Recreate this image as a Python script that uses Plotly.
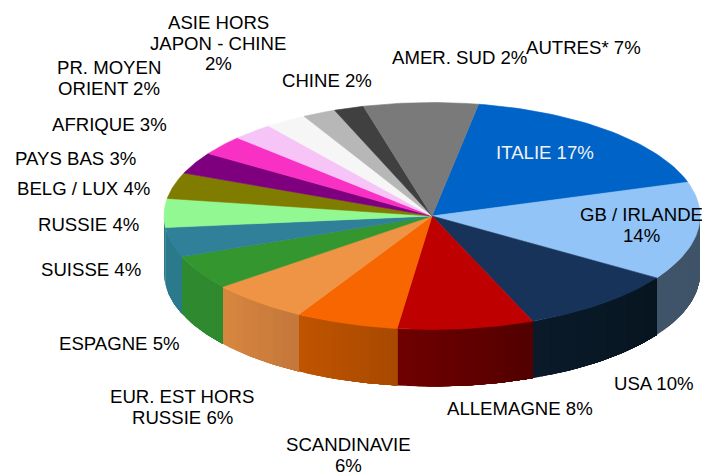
import numpy as np
import plotly.graph_objects as go

# Clockwise from ITALIE
regions = ["ITALIE", "GB / IRLANDE", "USA", "ALLEMAGNE", "SCANDINAVIE", "EUR. EST HORS RUSSIE",
           "ESPAGNE", "SUISSE", "RUSSIE", "BELG / LUX", "PAYS BAS", "AFRIQUE",
           "PR. MOYEN ORIENT", "ASIE HORS JAPON - CHINE", "CHINE", "AMER. SUD", "AUTRES*"]
shares = [17.4, 14.0, 9.7, 8.2, 6.2, 6.0, 4.9, 4.2, 4.1, 3.7, 3.1, 2.8, 2.5, 2.5, 2.0, 1.8, 6.9]
top_colors = ["#0063c8", "#92c4f7", "#17335a", "#bf0000", "#f76600", "#ef9445", "#33962f", "#2f8098",
              "#92f992", "#807c00", "#7f007f", "#f830c4", "#f7c4f7", "#f6f6f6", "#b7b7b7", "#404040", "#7a7a7a"]
side_left = ["#004a96", "#3f5469", "#0a1a2a", "#700000", "#c05400", "#d8873e", "#2f8a2f", "#2b7a8c",
             "#2b7a8c", "#807c00", "#7f007f", "#f830c4", "#f7c4f7", "#f6f6f6", "#b7b7b7", "#404040", "#7a7a7a"]
side_right = ["#004a96", "#3f5469", "#07151f", "#520000", "#a84a00", "#c4773a", "#2f8a2f", "#2b7a8c",
              "#2b7a8c", "#807c00", "#7f007f", "#f830c4", "#f7c4f7", "#f6f6f6", "#b7b7b7", "#404040", "#7a7a7a"]

labels = [
    (["ITALIE 17%"], 545, 152, "#f2f2f2"),
    (["GB / IRLANDE", "14%"], 641, 225, "#000000"),
    (["USA 10%"], 654, 383, "#000000"),
    (["ALLEMAGNE 8%"], 520, 408, "#000000"),
    (["SCANDINAVIE", "6%"], 348, 455, "#000000"),
    (["EUR. EST HORS", "RUSSIE 6%"], 182, 407, "#000000"),
    (["ESPAGNE 5%"], 119, 343, "#000000"),
    (["SUISSE 4%"], 91, 269, "#000000"),
    (["RUSSIE 4%"], 88, 224, "#000000"),
    (["BELG / LUX 4%"], 83, 188, "#000000"),
    (["PAYS BAS 3%"], 75, 158, "#000000"),
    (["AFRIQUE 3%"], 109, 124, "#000000"),
    (["PR. MOYEN", "ORIENT 2%"], 109, 78, "#000000"),
    (["ASIE HORS", "JAPON - CHINE", "2%"], 218, 43, "#000000"),
    (["CHINE 2%"], 327, 80, "#000000"),
    (["AMER. SUD 2%"], 459, 57, "#000000"),
    (["AUTRES* 7%"], 583, 47, "#000000"),
]

CX, CY, RX, RY, DEPTH, START = 432, 216, 268, 113.5, 57, 10.0
W, H = 702, 472
FONT_SIZE, LINE_GAP = 18.6, 20.5


def ex(t):
    return CX + RX * np.sin(np.radians(t))


def ey(t):
    return CY - RY * np.cos(np.radians(t))


def hex_mix(a, b, f):
    ca = [int(a[i:i + 2], 16) for i in (1, 3, 5)]
    cb = [int(b[i:i + 2], 16) for i in (1, 3, 5)]
    return "#%02x%02x%02x" % tuple(round(p + (q - p) * f) for p, q in zip(ca, cb))


def poly(xs, ys, color, width=0.6):
    return go.Scatter(x=list(xs), y=list(ys), mode="lines", fill="toself", fillcolor=color,
                      line=dict(color=color, width=width), hoverinfo="skip", showlegend=False)


fig = go.Figure()
total = sum(shares)
edges = START + np.cumsum([0] + shares) * 360 / total

# Rim: only the front half of the disc is visible. Each step paints on to the
# right-hand end of its slice, so the next step covers it and no seam shows.
for i in range(len(shares)):
    a, b = max(edges[i], 90), min(edges[i + 1], 270)
    if b <= a:
        continue
    n = max(1, int((b - a) / 2))
    steps = np.linspace(b, a, n + 1)  # screen left to right
    for k in range(n):
        ts = np.linspace(steps[k], a, 40)
        col = hex_mix(side_left[i], side_right[i], (k + 0.5) / n)
        fig.add_trace(poly(np.r_[ex(ts), ex(ts[::-1])],
                           np.r_[ey(ts), ey(ts[::-1]) + DEPTH], col, width=0))

# Top face
for i in range(len(shares)):
    ts = np.linspace(edges[i], edges[i + 1], 40)
    fig.add_trace(poly(np.r_[CX, ex(ts), CX], np.r_[CY, ey(ts), CY], top_colors[i]))

annotations = []
for lines, x, y, c in labels:
    y0 = y - (len(lines) - 1) * LINE_GAP / 2
    for j, line in enumerate(lines):
        annotations.append(dict(x=x, y=y0 + j * LINE_GAP, xref="x", yref="y", text=line,
                                showarrow=False, align="center", xanchor="center", yanchor="middle",
                                font=dict(color=c, size=FONT_SIZE)))

fig.update_layout(
    width=W, height=H, margin=dict(l=0, r=0, t=0, b=0), autosize=False,
    paper_bgcolor="white", plot_bgcolor="white", showlegend=False,
    font=dict(family="Liberation Sans, Arial, sans-serif", color="#000000"),
    xaxis=dict(range=[0, W], visible=False, fixedrange=True),
    yaxis=dict(range=[H, 0], visible=False, fixedrange=True),
    annotations=annotations,
)
fig.write_html("out.html", config={"displayModeBar": False},
               post_script="document.body.style.margin='0';document.body.style.overflow='hidden';")
